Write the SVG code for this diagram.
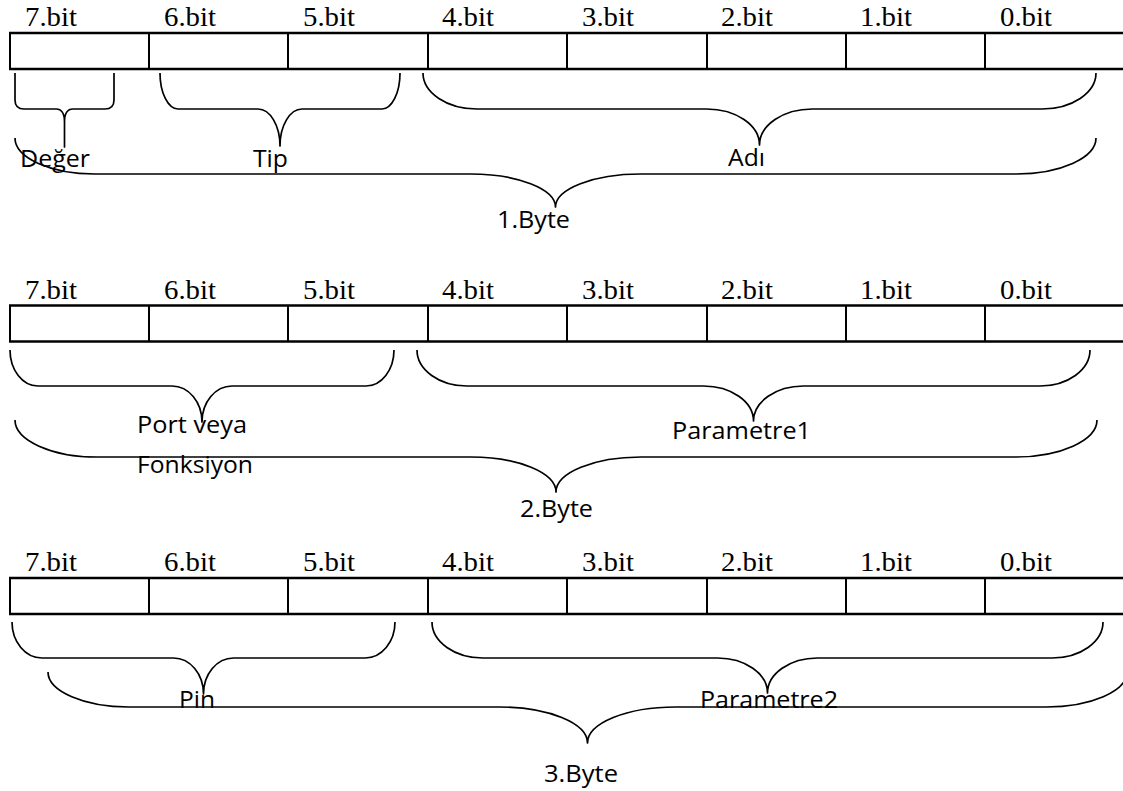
<svg xmlns="http://www.w3.org/2000/svg" width="1123" height="791" viewBox="0 0 1123 791">
<style>
.h{stroke:#000;stroke-width:2.6;fill:none}
.v{stroke:#000;stroke-width:2;fill:none}
.brace{fill:none;stroke:#000;stroke-width:1.7;stroke-linejoin:round}
.bit{font-family:"Liberation Serif","Times New Roman",serif;font-size:27px;fill:#000}
.lbl{font-family:"Open Sans","Noto Sans",sans-serif;font-size:24px;fill:#000}
</style>
<defs>
<g id="cols">
<line class="v" x1="10" y1="0" x2="10" y2="36"/>
<line class="v" x1="149" y1="0" x2="149" y2="36"/>
<line class="v" x1="288" y1="0" x2="288" y2="36"/>
<line class="v" x1="428" y1="0" x2="428" y2="36"/>
<line class="v" x1="567" y1="0" x2="567" y2="36"/>
<line class="v" x1="707" y1="0" x2="707" y2="36"/>
<line class="v" x1="846" y1="0" x2="846" y2="36"/>
<line class="v" x1="985" y1="0" x2="985" y2="36"/>
<line class="h" x1="9" y1="0" x2="1123" y2="0"/>
<line class="h" x1="9" y1="36" x2="1123" y2="36"/>
</g>
<g id="bits">
<text class="bit" x="25" y="-7" textLength="52" lengthAdjust="spacingAndGlyphs">7.bit</text>
<text class="bit" x="164" y="-7" textLength="52" lengthAdjust="spacingAndGlyphs">6.bit</text>
<text class="bit" x="303" y="-7" textLength="52" lengthAdjust="spacingAndGlyphs">5.bit</text>
<text class="bit" x="442" y="-7" textLength="52" lengthAdjust="spacingAndGlyphs">4.bit</text>
<text class="bit" x="582" y="-7" textLength="52" lengthAdjust="spacingAndGlyphs">3.bit</text>
<text class="bit" x="721" y="-7" textLength="52" lengthAdjust="spacingAndGlyphs">2.bit</text>
<text class="bit" x="860" y="-7" textLength="52" lengthAdjust="spacingAndGlyphs">1.bit</text>
<text class="bit" x="1000" y="-7" textLength="52" lengthAdjust="spacingAndGlyphs">0.bit</text>
</g>
</defs>

<g id="byte1-register">
<use href="#cols" transform="translate(0,33)"/>
<use href="#bits" transform="translate(0,33)"/>
</g>
<g id="byte2-register">
<use href="#cols" transform="translate(0,305.5)"/>
<use href="#bits" transform="translate(0,305.5)"/>
</g>
<g id="byte3-register">
<use href="#cols" transform="translate(0,578)"/>
<use href="#bits" transform="translate(0,578)"/>
</g>

<g id="connectors">
<path id="brace-deger" class="brace" d="M15,73 L15,100 Q15,109 24,109 L56,109 Q64.5,109 64.5,122 L64.5,147 L64.5,122 Q64.5,109 73,109 L105,109 Q114,109 114,100 L114,73"/>
<path id="brace-tip" class="brace" d="M160,73 C160,92.9 168.1,109 178,109 L258,109 C270.1,109 280,125.6 280,146 C280,125.6 289.9,109 302,109 L382,109 C391.9,109 400,92.9 400,73"/>
<path id="brace-adi" class="brace" d="M423,73 C423,92.9 447.2,109 477,109 L706.5,109 C735.8,109 759.5,125.1 759.5,145 C759.5,125.1 783.2,109 812.5,109 L1042,109 C1071.8,109 1096,92.9 1096,73"/>
<path id="brace-byte1" class="brace" d="M15,138 C15,157.9 50.8,174 95,174 L470.5,174 C517.4,174 555.5,188.8 555.5,207 C555.5,188.8 593.6,174 640.5,174 L1016,174 C1060.2,174 1096,157.9 1096,138"/>
<path id="brace-port" class="brace" d="M10,350 C10,369.9 22.5,386 38,386 L172,386 C188.6,386 202,402.1 202,422 C202,402.1 215.4,386 232,386 L366,386 C381.5,386 394,369.9 394,350"/>
<path id="brace-param1" class="brace" d="M417,350 C417,369.9 439.4,386 467,386 L703.5,386 C731.1,386 753.5,401.7 753.5,421 C753.5,401.7 775.9,386 803.5,386 L1040,386 C1067.6,386 1090,369.9 1090,350"/>
<path id="brace-byte2" class="brace" d="M15,420 C15,440.4 51.7,457 97,457 L471,457 C517.9,457 556,472.7 556,492 C556,472.7 594.1,457 641,457 L1015,457 C1060.3,457 1097,440.4 1097,420"/>
<path id="brace-pin" class="brace" d="M12,622 C12,641.9 25.4,658 42,658 L173.5,658 C190.1,658 203.5,674.1 203.5,694 C203.5,674.1 216.9,658 233.5,658 L365,658 C381.6,658 395,641.9 395,622"/>
<path id="brace-param2" class="brace" d="M432,622 C432,641.9 454.8,658 483,658 L717.5,658 C745.1,658 767.5,673.7 767.5,693 C767.5,673.7 789.9,658 817.5,658 L1052,658 C1080.2,658 1103,641.9 1103,622"/>
<path id="brace-byte3" class="brace" d="M48,672 C48,691.3 84.3,707 129,707 L499.5,707 C548.1,707 587.5,723.1 587.5,743 C587.5,723.1 626.9,707 675.5,707 L1046,707 C1090.7,707 1127,691.3 1127,672"/>
</g>

<g id="label-deger"><text class="lbl" x="20" y="167" textLength="70" lengthAdjust="spacingAndGlyphs">Değer</text></g>
<g id="label-tip"><text class="lbl" x="253" y="167" textLength="35" lengthAdjust="spacingAndGlyphs">Tip</text></g>
<g id="label-adi"><text class="lbl" x="728" y="166" textLength="37" lengthAdjust="spacingAndGlyphs">Adı</text></g>
<g id="label-byte1"><text class="lbl" x="497" y="228" textLength="73" lengthAdjust="spacingAndGlyphs">1.Byte</text></g>
<g id="label-port"><text class="lbl" x="137" y="433" textLength="110" lengthAdjust="spacingAndGlyphs">Port veya</text><text class="lbl" x="137" y="473" textLength="116" lengthAdjust="spacingAndGlyphs">Fonksiyon</text></g>
<g id="label-param1"><text class="lbl" x="672" y="439" textLength="139" lengthAdjust="spacingAndGlyphs">Parametre1</text></g>
<g id="label-byte2"><text class="lbl" x="520" y="517" textLength="73" lengthAdjust="spacingAndGlyphs">2.Byte</text></g>
<g id="label-pin"><text class="lbl" x="179" y="708" textLength="36" lengthAdjust="spacingAndGlyphs">Pin</text></g>
<g id="label-param2"><text class="lbl" x="700" y="708" textLength="138" lengthAdjust="spacingAndGlyphs">Parametre2</text></g>
<g id="label-byte3"><text class="lbl" x="544" y="782" textLength="74" lengthAdjust="spacingAndGlyphs">3.Byte</text></g>
</svg>
